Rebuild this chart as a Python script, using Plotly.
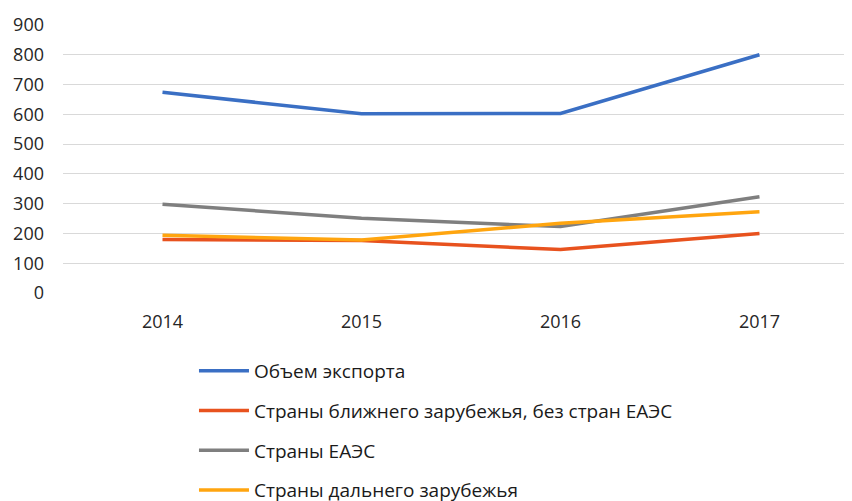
import plotly.graph_objects as go

years = ["2014", "2015", "2016", "2017"]
export_total = [674, 602, 603, 800]
near_abroad = [180, 176, 146, 200]
eaeu = [298, 251, 223, 323]
far_abroad = [194, 178, 234, 273]

names = [
    "Объем экспорта",
    "Страны ближнего зарубежья, без стран ЕАЭС",
    "Страны ЕАЭС",
    "Страны дальнего зарубежья",
]
colors = ["#3A6FC4", "#E8521E", "#7F7F7F", "#FFA50F"]
series = [export_total, near_abroad, eaeu, far_abroad]

fig = go.Figure()
for i, (n, c, s) in enumerate(zip(names, colors, series)):
    fig.add_trace(go.Scatter(
        x=years, y=s, name=n, mode="lines",
        line=dict(color=c, width=3.5),
        legendgroup=f"g{i}",
    ))

fig.update_layout(
    width=852, height=501,
    margin=dict(l=55, r=8, t=17, b=216, autoexpand=False),
    paper_bgcolor="white", plot_bgcolor="white",
    font=dict(family="Open Sans", size=18, color="#262626"),
    showlegend=True,
    legend=dict(
        orientation="v", x=0.166, xanchor="left", y=-0.22, yanchor="top",
        font=dict(size=19, color="#1A1A1A"),
        tracegroupgap=12, itemwidth=50,
        bgcolor="rgba(0,0,0,0)",
    ),
)
fig.update_xaxes(
    type="category", range=[-0.5, 3.465], showgrid=False, showline=False,
    ticks="", ticklabelstandoff=16, automargin=False,
)
fig.update_yaxes(
    range=[0, 900], dtick=100, showgrid=True, gridcolor="#D9D9D9", gridwidth=1.3,
    zeroline=False, showline=False, ticks="", ticklabelstandoff=18, automargin=False,
)

fig.write_html("out.html")
